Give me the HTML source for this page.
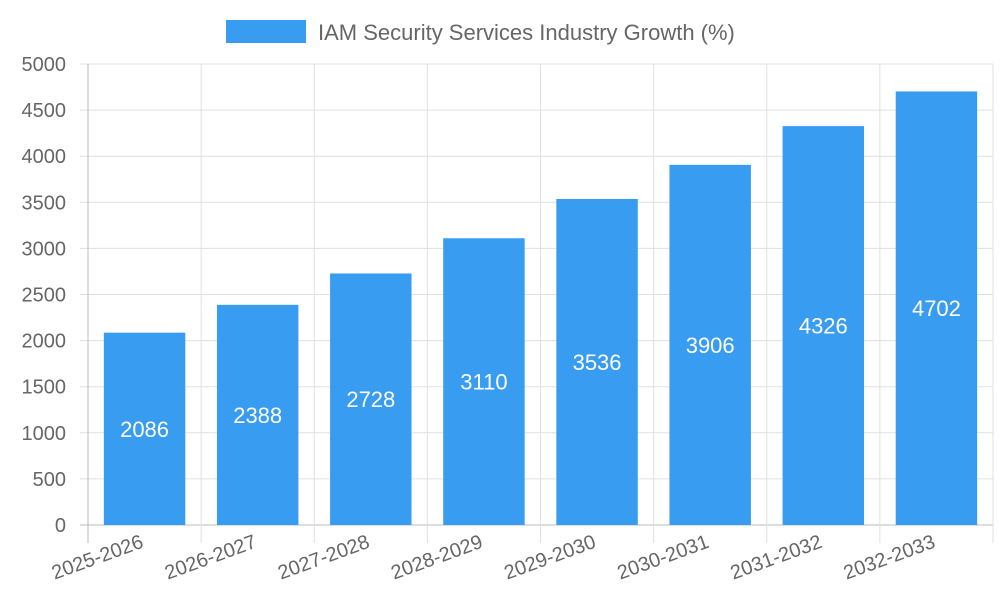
<!DOCTYPE html>
<html><head><meta charset="utf-8"><style>
html,body{margin:0;padding:0;background:#fff;width:1000px;height:600px;overflow:hidden}
svg text{font-family:"Liberation Sans",sans-serif}
</style></head><body>
<svg id="chart" width="1000" height="600" viewBox="0 0 1000 600" xmlns="http://www.w3.org/2000/svg">
<g id="legend">
<rect x="226" y="20" width="80" height="23" fill="#389cf0"/>
<text x="318" y="40" font-size="22" fill="#666">IAM Security Services Industry Growth (%)</text>
</g>
<g id="grid"></g><g id="bars"></g><g id="axes"></g>
</svg>
<script>
const categories=["2025-2026","2026-2027","2027-2028","2028-2029","2029-2030","2030-2031","2031-2032","2032-2033"];
const values=[2086,2388,2728,3110,3536,3906,4326,4702];
const yTicks=[0,500,1000,1500,2000,2500,3000,3500,4000,4500,5000];
const L=88,R=993,T=64,B=525,yMax=5000;
const NS="http://www.w3.org/2000/svg";
const cw=(R-L)/categories.length;
function y(v){return B-(v/yMax)*(B-T);}
function x(i){return L+i*cw;}
function mk(tag,attrs,parent,text){const e=document.createElementNS(NS,tag);for(const k in attrs)e.setAttribute(k,attrs[k]);if(text!==undefined)e.textContent=text;parent.appendChild(e);return e;}
const grid=document.getElementById('grid'),bars=document.getElementById('bars'),axes=document.getElementById('axes');
yTicks.forEach(t=>{
 const g=mk('line',{x1:L-8,x2:R,y1:y(t),y2:y(t),stroke:t===0?'#bbb':'#e0e0e0','stroke-width':1},grid);
 
 
 const lb=mk('text',{x:L-22,y:y(t)+7,'text-anchor':'end','font-size':20,fill:'#666'},axes,String(t));
 
 
});
for(let i=0;i<=categories.length;i++){
 const g=mk('line',{x1:x(i),x2:x(i),y1:T,y2:B+18,stroke:i===0?'#bbb':'#e0e0e0','stroke-width':1},grid);
 
 
}
categories.forEach((c,i)=>{
 const bw=cw*0.72,bx=x(i)+(cw-bw)/2,top=y(values[i]);
 const r=mk('rect',{x:bx,y:top,width:bw,height:B-top,fill:'#389cf0'},bars);
 
 
 const v=mk('text',{x:bx+bw/2,y:(top+B)/2+8,'text-anchor':'middle','font-size':22,fill:'#fff'},bars,String(values[i]));
 
 
 const cx=x(i)+cw/2;
 const lb=mk('text',{x:cx,y:B+22,'text-anchor':'end','font-size':20,fill:'#666',transform:`rotate(-20 ${cx} ${B+22})`},axes,c);
 
 
});
</script>
</body></html>
